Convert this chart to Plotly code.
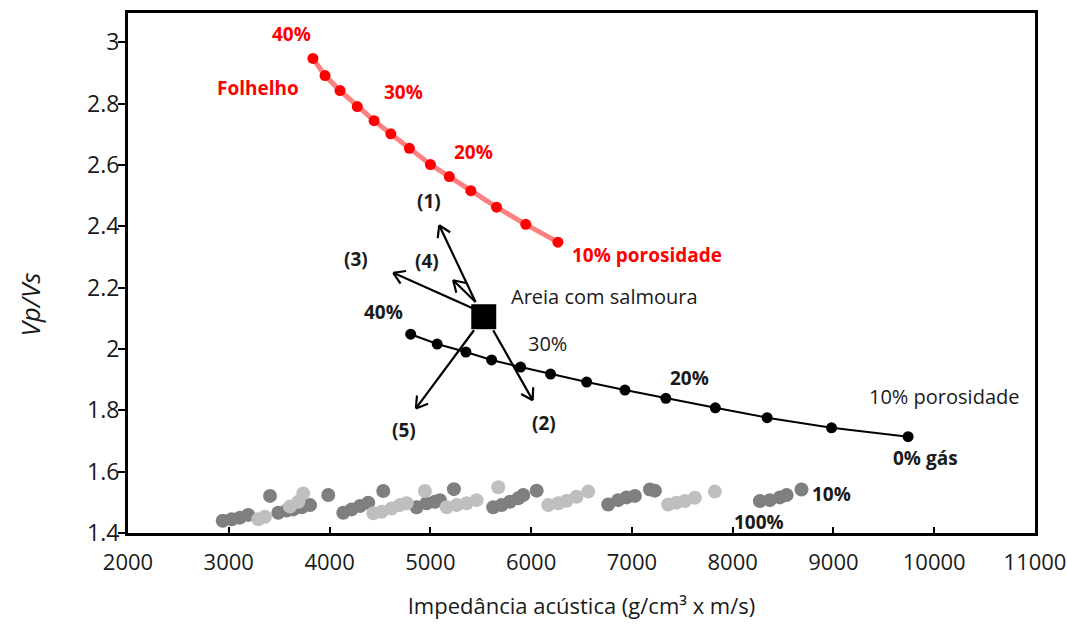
import math
import plotly.graph_objects as go

# --- Shale (Folhelho) trend: acoustic impedance vs Vp/Vs ---
shale_ai = [3835, 3955, 4104, 4275, 4442, 4608, 4792, 5001, 5188, 5402, 5657, 5947, 6266]
shale_vpvs = [2.947, 2.891, 2.842, 2.790, 2.744, 2.701, 2.654, 2.601, 2.562, 2.516, 2.462, 2.406, 2.348]

# --- Brine sand trend ---
sand_ai = [4805, 5068, 5353, 5608, 5896, 6193, 6551, 6931, 7337, 7828, 8342, 8981, 9741]
sand_vpvs = [2.048, 2.016, 1.990, 1.964, 1.941, 1.918, 1.892, 1.866, 1.839, 1.808, 1.776, 1.743, 1.714]

# --- Brine sand reference point ---
brine_ai = [5530]
brine_vpvs = [2.105]

# --- Gas sand clouds (dark and light gray) ---
gas_dark_ai = [2940, 3029, 3111, 3193, 3409, 3491, 3574, 3640, 3723, 3806, 3987,
               4136, 4219, 4302, 4384, 4533, 4864, 4963, 5046, 5095, 5234,
               5624, 5707, 5790, 5872, 5922, 6055, 6765, 6864, 6947, 7030, 7179, 7228,
               8270, 8369, 8468, 8535, 8683]
gas_dark_vpvs = [1.440, 1.445, 1.450, 1.459, 1.521, 1.466, 1.473, 1.477, 1.484, 1.491, 1.524,
                 1.466, 1.477, 1.488, 1.499, 1.537, 1.484, 1.497, 1.502, 1.507, 1.543,
                 1.484, 1.491, 1.502, 1.513, 1.524, 1.538, 1.493, 1.507, 1.516, 1.521, 1.542, 1.538,
                 1.504, 1.507, 1.516, 1.524, 1.542]
gas_light_ai = [3293, 3359, 3607, 3690, 3739, 4434, 4517, 4616, 4698, 4765, 4946,
                5162, 5261, 5360, 5459, 5674, 6170, 6269, 6352, 6451, 6567,
                7360, 7443, 7526, 7625, 7823]
gas_light_vpvs = [1.445, 1.453, 1.486, 1.502, 1.529, 1.464, 1.469, 1.480, 1.491, 1.497, 1.537,
                  1.484, 1.491, 1.497, 1.507, 1.549, 1.491, 1.497, 1.505, 1.518, 1.535,
                  1.493, 1.499, 1.504, 1.515, 1.535]

# --- Arrows (tail -> head) ---
arrow_names = ["(1)", "(4)", "(3)", "(5)", "(2)"]
arrow_tail_ai = [5449, 5449, 5426, 5433, 5624]
arrow_tail_vpvs = [2.153, 2.153, 2.132, 2.061, 2.061]
arrow_head_ai = [5088, 5227, 4632, 4857, 6015]
arrow_head_vpvs = [2.403, 2.224, 2.248, 1.806, 1.833]

x_ticks = [2000, 3000, 4000, 5000, 6000, 7000, 8000, 9000, 10000, 11000]
y_ticks = [1.4, 1.6, 1.8, 2.0, 2.2, 2.4, 2.6, 2.8, 3.0]

X_RANGE = [2000, 11000]
Y_RANGE = [1.4, 3.095]
W, H = 1067, 624
M = dict(l=128, r=32, t=13, b=91)

RED = "#ff0000"
INK = "#1a1a1a"
FONT = "Open Sans"

fig = go.Figure()

fig.add_trace(go.Scatter(x=gas_dark_ai, y=gas_dark_vpvs, mode="markers",
                         marker=dict(color="#7f7f7f", size=14), showlegend=False))
fig.add_trace(go.Scatter(x=gas_light_ai, y=gas_light_vpvs, mode="markers",
                         marker=dict(color="#bfbfbf", size=14), showlegend=False))

fig.add_trace(go.Scatter(x=shale_ai, y=shale_vpvs, mode="lines+markers",
                         line=dict(color="#ff8080", width=5),
                         marker=dict(color=RED, size=11), showlegend=False))
fig.add_trace(go.Scatter(x=sand_ai, y=sand_vpvs, mode="lines+markers",
                         line=dict(color="black", width=2),
                         marker=dict(color="black", size=11), showlegend=False))

# Arrows drawn as line shapes with open "V" heads (head arms computed in pixel space)
sx = (W - M["l"] - M["r"]) / (X_RANGE[1] - X_RANGE[0])
sy = (H - M["t"] - M["b"]) / (Y_RANGE[1] - Y_RANGE[0])
ARM = 13
shapes = []
for tx, ty, hx, hy in zip(arrow_tail_ai, arrow_tail_vpvs, arrow_head_ai, arrow_head_vpvs):
    shapes.append(dict(type="line", xref="x", yref="y", x0=tx, y0=ty, x1=hx, y1=hy,
                       line=dict(color="black", width=2.2)))
    dxp, dyp = (tx - hx) * sx, (ty - hy) * sy
    n = math.hypot(dxp, dyp)
    ux, uy = dxp / n, dyp / n
    for a in (math.radians(32), -math.radians(32)):
        rx = ux * math.cos(a) - uy * math.sin(a)
        ry = ux * math.sin(a) + uy * math.cos(a)
        shapes.append(dict(type="line", xref="x", yref="y", x0=hx, y0=hy,
                           x1=hx + ARM * rx / sx, y1=hy + ARM * ry / sy,
                           line=dict(color="black", width=2.2)))

fig.add_trace(go.Scatter(x=brine_ai, y=brine_vpvs, mode="markers",
                         marker=dict(color="black", size=25, symbol="square"),
                         showlegend=False))

labels = [
    ("40%", 3627, 3.025, RED, True),
    ("Folhelho", 3290, 2.849, RED, True),
    ("30%", 4738, 2.836, RED, True),
    ("20%", 5433, 2.641, RED, True),
    ("10% porosidade", 7150, 2.306, RED, True),
    ("(1)", 4986, 2.481, INK, True),
    ("(3)", 4262, 2.292, INK, True),
    ("(4)", 4966, 2.286, INK, True),
    ("40%", 4540, 2.120, INK, True),
    ("Areia com salmoura", 6730, 2.172, INK, False),
    ("30%", 6167, 2.019, INK, False),
    ("20%", 7575, 1.905, INK, True),
    ("10% porosidade", 10100, 1.846, INK, False),
    ("0% gás", 9917, 1.644, INK, True),
    ("(5)", 4738, 1.735, INK, True),
    ("(2)", 6127, 1.758, INK, True),
    ("10%", 8984, 1.527, INK, True),
    ("100%", 8260, 1.436, INK, True),
]
annotations = []
for txt, lx, ly, col, bold in labels:
    annotations.append(dict(x=lx, y=ly, xref="x", yref="y", showarrow=False,
                            text=f"<b>{txt}</b>" if bold else txt,
                            font=dict(family=FONT, size=19 if bold else 20, color=col)))

# y-axis title placed as rotated text (sits lower than plot centre in the original)
annotations.append(dict(x=-0.108, y=2.145, xref="paper", yref="y", showarrow=False,
                        xanchor="center", yanchor="middle",
                        text="<i>Vp/Vs</i>", textangle=-90,
                        font=dict(family=FONT, size=26, color=INK)))

fig.update_layout(
    width=W, height=H,
    margin=M,
    plot_bgcolor="white", paper_bgcolor="white",
    annotations=annotations,
    shapes=shapes,
    showlegend=False,
)
fig.update_xaxes(range=X_RANGE, tickvals=x_ticks, tickformat="d", automargin=False,
                 showgrid=False, zeroline=False,
                 showline=True, linecolor="black", linewidth=3, mirror=True,
                 ticks="inside", ticklen=6, tickwidth=2, tickcolor="black",
                 ticklabelstandoff=8,
                 tickfont=dict(family=FONT, size=22, color=INK),
                 title=dict(text="Impedância acústica (g/cm³ x m/s)",
                            font=dict(family=FONT, size=22, color=INK),
                            standoff=24))
fig.update_yaxes(range=Y_RANGE, tickvals=y_ticks, automargin=False,
                 showgrid=False, zeroline=False,
                 showline=True, linecolor="black", linewidth=3, mirror=True,
                 ticks="outside", ticklen=7, tickwidth=2, tickcolor="black",
                 ticklabelstandoff=-6,
                 tickfont=dict(family=FONT, size=23, color=INK))

fig.write_html("out.html")
